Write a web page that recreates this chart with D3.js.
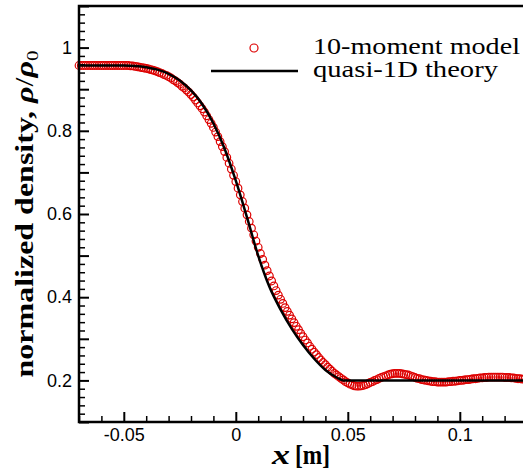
<!DOCTYPE html>
<html lang="en">
<head>
<meta charset="UTF-8">
<title>Density profile</title>
<script src="https://d3js.org/d3.v7.min.js"></script>
<style>
  body { margin: 0; background: #fff; }
  svg { display: block; }
  .tick text { font-family: "Liberation Sans", Arial, sans-serif; font-size: 18px; fill: #000; }
  .serif { font-family: "Liberation Serif", "Times New Roman", serif; fill: #000; }
</style>
</head>
<body>
<svg width="523" height="472"></svg>
<script>
// data
const theoryX   = [-0.070, -0.050, -0.045, -0.040, -0.035, -0.030, -0.025, -0.020, -0.015, -0.010, -0.005, 0.000,
                   0.005, 0.010, 0.015, 0.020, 0.025, 0.030, 0.035, 0.040, 0.045, 0.048, 0.060, 0.130];
const theoryRho = [0.957, 0.957, 0.956, 0.953, 0.947, 0.937, 0.921, 0.897, 0.864, 0.818, 0.757, 0.680,
                   0.592, 0.500, 0.425, 0.370, 0.324, 0.285, 0.252, 0.225, 0.207, 0.200, 0.200, 0.200];

const modelX = [
  -0.070, -0.069, -0.068, -0.067, -0.066, -0.065, -0.064, -0.063, -0.062, -0.061,
  -0.060, -0.059, -0.058, -0.057, -0.056, -0.055, -0.054, -0.053, -0.052, -0.051,
  -0.050, -0.049, -0.048, -0.047, -0.046, -0.045, -0.044, -0.043, -0.042, -0.041,
  -0.040, -0.039, -0.038, -0.037, -0.036, -0.035, -0.034, -0.033, -0.032, -0.031,
  -0.030, -0.029, -0.028, -0.027, -0.026, -0.025, -0.024, -0.023, -0.022, -0.021,
  -0.020, -0.019, -0.018, -0.017, -0.016, -0.015, -0.014, -0.013, -0.012, -0.011,
  -0.010, -0.009, -0.008, -0.007, -0.006, -0.005, -0.004, -0.003, -0.002, -0.001,
  0.000, 0.001, 0.002, 0.003, 0.004, 0.005, 0.006, 0.007, 0.008, 0.009,
  0.010, 0.011, 0.012, 0.013, 0.014, 0.015, 0.016, 0.017, 0.018, 0.019,
  0.020, 0.021, 0.022, 0.023, 0.024, 0.025, 0.026, 0.027, 0.028, 0.029,
  0.030, 0.031, 0.032, 0.033, 0.034, 0.035, 0.036, 0.037, 0.038, 0.039,
  0.040, 0.041, 0.042, 0.043, 0.044, 0.045, 0.046, 0.047, 0.048, 0.049,
  0.050, 0.051, 0.052, 0.053, 0.054, 0.055, 0.056, 0.057, 0.058, 0.059,
  0.060, 0.061, 0.062, 0.063, 0.064, 0.065, 0.066, 0.067, 0.068, 0.069,
  0.070, 0.071, 0.072, 0.073, 0.074, 0.075, 0.076, 0.077, 0.078, 0.079,
  0.080, 0.081, 0.082, 0.083, 0.084, 0.085, 0.086, 0.087, 0.088, 0.089,
  0.090, 0.091, 0.092, 0.093, 0.094, 0.095, 0.096, 0.097, 0.098, 0.099,
  0.100, 0.101, 0.102, 0.103, 0.104, 0.105, 0.106, 0.107, 0.108, 0.109,
  0.110, 0.111, 0.112, 0.113, 0.114, 0.115, 0.116, 0.117, 0.118, 0.119,
  0.120, 0.121, 0.122, 0.123, 0.124, 0.125, 0.126, 0.127, 0.128, 0.129,
  0.130
];
const modelRho = [
  0.957, 0.957, 0.957, 0.957, 0.957, 0.957, 0.957, 0.957, 0.957, 0.957,
  0.957, 0.957, 0.957, 0.957, 0.957, 0.957, 0.957, 0.957, 0.957, 0.957,
  0.957, 0.957, 0.957, 0.956, 0.956, 0.955, 0.954, 0.953, 0.952, 0.951,
  0.950, 0.949, 0.947, 0.946, 0.944, 0.942, 0.940, 0.938, 0.935, 0.933,
  0.930, 0.927, 0.923, 0.920, 0.916, 0.912, 0.907, 0.903, 0.898, 0.893,
  0.887, 0.881, 0.874, 0.867, 0.860, 0.853, 0.845, 0.836, 0.827, 0.818,
  0.808, 0.797, 0.786, 0.774, 0.762, 0.750, 0.736, 0.722, 0.708, 0.693,
  0.678, 0.662, 0.646, 0.630, 0.614, 0.598, 0.582, 0.566, 0.550, 0.535,
  0.520, 0.505, 0.491, 0.477, 0.464, 0.451, 0.439, 0.427, 0.416, 0.405,
  0.395, 0.385, 0.375, 0.366, 0.357, 0.348, 0.339, 0.330, 0.322, 0.313,
  0.305, 0.297, 0.290, 0.282, 0.275, 0.268, 0.262, 0.255, 0.249, 0.243,
  0.238, 0.232, 0.227, 0.222, 0.217, 0.213, 0.209, 0.205, 0.201, 0.197,
  0.194, 0.191, 0.189, 0.187, 0.186, 0.186, 0.187, 0.188, 0.190, 0.192,
  0.195, 0.197, 0.200, 0.202, 0.205, 0.207, 0.209, 0.211, 0.213, 0.215,
  0.216, 0.217, 0.217, 0.217, 0.216, 0.215, 0.214, 0.213, 0.211, 0.209,
  0.207, 0.205, 0.204, 0.202, 0.201, 0.200, 0.199, 0.198, 0.197, 0.197,
  0.196, 0.196, 0.196, 0.196, 0.196, 0.197, 0.197, 0.198, 0.198, 0.199,
  0.200, 0.200, 0.201, 0.202, 0.202, 0.203, 0.204, 0.204, 0.205, 0.206,
  0.206, 0.207, 0.207, 0.208, 0.208, 0.208, 0.208, 0.208, 0.208, 0.208,
  0.207, 0.207, 0.207, 0.206, 0.206, 0.205, 0.204, 0.204, 0.203, 0.203,
  0.202
];

const xMajorTicks = [-0.05, 0, 0.05, 0.1];
const xMinorTicks = [-0.07, -0.06, -0.04, -0.03, -0.02, -0.01, 0.01, 0.02, 0.03, 0.04, 0.06, 0.07, 0.08, 0.09, 0.11, 0.12, 0.13];
const xTickLabels = ["-0.05", "0", "0.05", "0.1"];
const yMajorTicks = [0.1, 0.2, 0.3, 0.4, 0.5, 0.6, 0.7, 0.8, 0.9, 1.0, 1.1];
const yTickLabels = ["", "0.2", "", "0.4", "", "0.6", "", "0.8", "", "1", ""];
const yMinorTicks = [0.12, 0.14, 0.16, 0.18, 0.22, 0.24, 0.26, 0.28, 0.32, 0.34, 0.36, 0.38,
                     0.42, 0.44, 0.46, 0.48, 0.52, 0.54, 0.56, 0.58, 0.62, 0.64, 0.66, 0.68,
                     0.72, 0.74, 0.76, 0.78, 0.82, 0.84, 0.86, 0.88, 0.92, 0.94, 0.96, 0.98,
                     1.02, 1.04, 1.06, 1.08];
const legendLabels = ["10-moment model", "quasi-1D theory"];

const svg = d3.select("svg");
const pLeft = 79, pRight = 527, pTop = 6, pBottom = 422;

const x = d3.scaleLinear().domain([-0.07, 0.13]).range([pLeft, pRight]);
const y = d3.scaleLinear().domain([0.1, 1.1]).range([pBottom, pTop]);

const red = "#dd0000";

// model circles
svg.append("g")
  .selectAll("circle")
  .data(modelX.map((d, i) => [d, modelRho[i]]))
  .enter()
  .append("circle")
    .attr("cx", d => x(d[0]))
    .attr("cy", d => y(d[1]))
    .attr("r", 3.8)
    .attr("fill", "none")
    .attr("stroke", red)
    .attr("stroke-width", 1.2);

// theory line
const line = d3.line()
  .x(d => x(d[0]))
  .y(d => y(d[1]))
  .curve(d3.curveMonotoneX);

svg.append("path")
  .datum(theoryX.map((d, i) => [d, theoryRho[i]]))
  .attr("d", line)
  .attr("fill", "none")
  .attr("stroke", "#000")
  .attr("stroke-width", 2.5);

// axes, ticks pointing inward
function styleAxis(g, w) {
  g.select(".domain").remove();
  g.selectAll(".tick line").attr("stroke", "#000").attr("stroke-width", w);
}

svg.append("g")
  .attr("transform", "translate(0," + pBottom + ")")
  .call(d3.axisBottom(x).tickValues(xMinorTicks).tickSize(-6).tickFormat(""))
  .call(g => styleAxis(g, 1.5));

svg.append("g")
  .attr("transform", "translate(0," + pBottom + ")")
  .call(d3.axisBottom(x).tickValues(xMajorTicks).tickSize(-10).tickPadding(6)
    .tickFormat((d, i) => xTickLabels[i]))
  .call(g => styleAxis(g, 2));

svg.append("g")
  .attr("transform", "translate(" + pLeft + ",0)")
  .call(d3.axisLeft(y).tickValues(yMinorTicks).tickSize(-6).tickFormat(""))
  .call(g => styleAxis(g, 1.5));

svg.append("g")
  .attr("transform", "translate(" + pLeft + ",0)")
  .call(d3.axisLeft(y).tickValues(yMajorTicks).tickSize(-10).tickPadding(7)
    .tickFormat((d, i) => yTickLabels[i]))
  .call(g => styleAxis(g, 2));

// frame
svg.append("path")
  .attr("d", "M" + pRight + "," + pTop + "H" + pLeft + "V" + pBottom + "H" + pRight)
  .attr("fill", "none")
  .attr("stroke", "#000")
  .attr("stroke-width", 2.5);

// stretch text horizontally to a target width (the original font is wider)
function fit(text, width) {
  const w = text.node().getComputedTextLength();
  return width / w;
}

// legend
const leg = svg.append("g");
leg.append("circle")
  .attr("cx", 254).attr("cy", 48).attr("r", 4)
  .attr("fill", "none").attr("stroke", red).attr("stroke-width", 1.2);
leg.append("line")
  .attr("x1", 211).attr("x2", 298).attr("y1", 71).attr("y2", 71)
  .attr("stroke", "#000").attr("stroke-width", 2.5);

[[legendLabels[0], 54, 207], [legendLabels[1], 77, 185]].forEach(function(d) {
  const t = leg.append("text")
    .attr("class", "serif")
    .attr("font-size", 23)
    .text(d[0]);
  const k = fit(t, d[2]);
  t.attr("transform", "translate(313," + d[1] + ") scale(" + k + ",1)");
});

// y axis title
const yt = svg.append("text")
  .attr("class", "serif")
  .attr("font-size", 26)
  .attr("font-weight", "bold")
  .attr("text-anchor", "middle");
yt.append("tspan").text("normalized density, ");
yt.append("tspan").attr("font-style", "italic").text("\u03C1");
yt.append("tspan").attr("font-weight", "normal").text("/");
yt.append("tspan").attr("font-style", "italic").text("\u03C1");
yt.append("tspan").attr("font-size", 17).attr("font-weight", "normal").attr("dy", 5).text("0");
const ky = fit(yt, 327);
yt.attr("transform", "translate(33,214) rotate(-90) scale(" + ky + ",1)");

// x axis title
const xt1 = svg.append("text")
  .attr("class", "serif")
  .attr("font-size", 27)
  .attr("font-weight", "bold")
  .attr("font-style", "italic")
  .text("x");
xt1.attr("transform", "translate(272,464) scale(" + fit(xt1, 18) + ",1)");

const xt2 = svg.append("text")
  .attr("class", "serif")
  .attr("font-size", 27)
  .attr("font-weight", "bold")
  .text("[m]");
xt2.attr("transform", "translate(295,464) scale(" + fit(xt2, 35) + ",1)");
</script>
</body>
</html>
